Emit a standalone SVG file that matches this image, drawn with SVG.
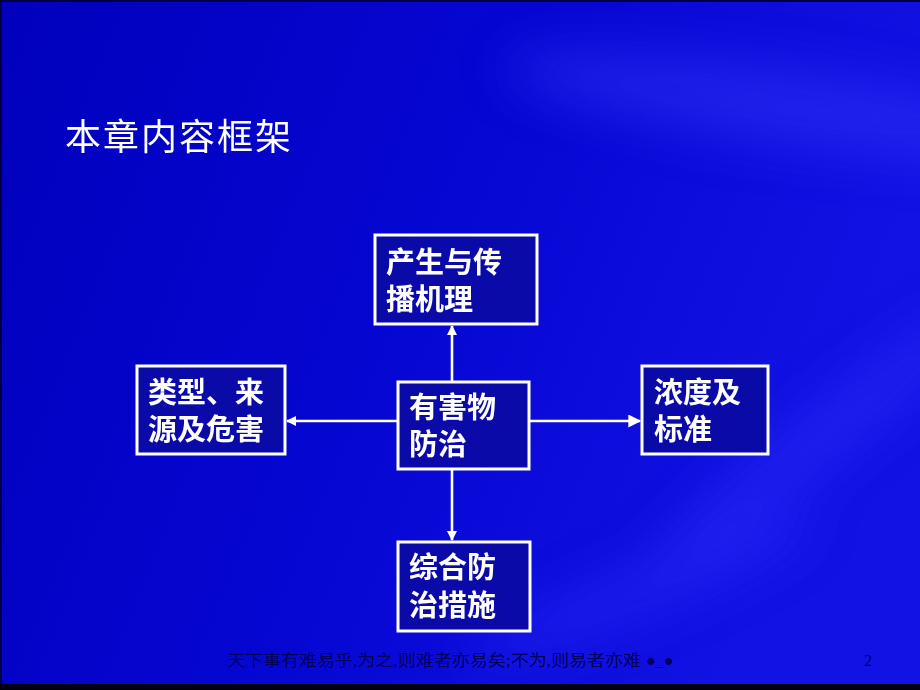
<svg xmlns="http://www.w3.org/2000/svg" width="920" height="690" viewBox="0 0 920 690">
  <defs>
    <linearGradient id="bg" x1="0" y1="0" x2="1" y2="0.3">
      <stop offset="0" stop-color="#0000bc"/>
      <stop offset="0.5" stop-color="#0606d2"/>
      <stop offset="1" stop-color="#1212e4"/>
    </linearGradient>
    <filter id="blur" x="-50%" y="-50%" width="200%" height="200%">
      <feGaussianBlur stdDeviation="26"/>
    </filter>
    <marker id="arr" viewBox="0 0 10 10" refX="9" refY="5" markerWidth="10" markerHeight="10" markerUnits="userSpaceOnUse" orient="auto">
      <path d="M0,0 L10,5 L0,10 z" fill="#ffffff"/>
    </marker>
    <marker id="arrBig" viewBox="0 0 10 10" refX="9" refY="5" markerWidth="14" markerHeight="13" markerUnits="userSpaceOnUse" orient="auto">
      <path d="M0,0 L10,5 L0,10 z" fill="#ffffff"/>
    </marker>
  </defs>
  <style>
    .box { fill: #0a0aa8; stroke: #ffffff; stroke-width: 3; }
    .lbl { fill: #ffffff; font-family: "Noto Sans CJK SC", "Noto Sans", sans-serif; font-size: 29px; font-weight: bold; }
    .edge { stroke: #ffffff; stroke-width: 2.6; fill: none; }
    .foot { fill: #000058; font-family: "Liberation Serif", "Noto Sans CJK SC", serif; font-size: 16px; }
  </style>

  <!-- background -->
  <rect x="0" y="0" width="920" height="690" fill="url(#bg)"/>
  <g filter="url(#blur)" opacity="0.45">
    <ellipse cx="780" cy="105" rx="280" ry="38" fill="#3a3aff" transform="rotate(8 780 105)"/>
    <ellipse cx="830" cy="430" rx="230" ry="26" fill="#3434ff" transform="rotate(-38 830 430)"/>
    <ellipse cx="640" cy="590" rx="190" ry="24" fill="#3030ff" transform="rotate(-22 640 590)"/>
  </g>
  <rect x="0" y="0" width="920" height="2" fill="#000040"/>
  <rect x="0" y="0" width="2" height="690" fill="#000040"/>
  <rect x="0" y="684" width="920" height="6" fill="#000010"/>

  <!-- title -->
  <text x="65" y="150" fill="#ffffff" font-family="Noto Sans CJK SC, Noto Sans, sans-serif" font-size="36" letter-spacing="2">本章内容框架</text>

  <!-- connectors -->
  <g id="connectors">
    <line class="edge" x1="452" y1="382" x2="452" y2="326" marker-end="url(#arr)"/>
    <line class="edge" x1="398" y1="421" x2="287" y2="421" marker-end="url(#arr)"/>
    <line class="edge" x1="529" y1="421" x2="640" y2="421" marker-end="url(#arrBig)"/>
    <line class="edge" x1="452" y1="469" x2="452" y2="540" marker-end="url(#arr)"/>
  </g>

  <!-- nodes -->
  <g id="node-center">
    <rect class="box" x="398" y="382" width="131" height="87"/>
    <text class="lbl"><tspan x="409" y="418">有害物</tspan><tspan x="409" y="455">防治</tspan></text>
  </g>
  <g id="node-top">
    <rect class="box" x="375" y="235" width="162" height="89"/>
    <text class="lbl"><tspan x="386" y="273">产生与传</tspan><tspan x="386" y="310">播机理</tspan></text>
  </g>
  <g id="node-left">
    <rect class="box" x="137" y="366" width="148" height="88"/>
    <text class="lbl"><tspan x="148" y="403">类型、来</tspan><tspan x="148" y="440">源及危害</tspan></text>
  </g>
  <g id="node-right">
    <rect class="box" x="642" y="366" width="126" height="88"/>
    <text class="lbl"><tspan x="654" y="403">浓度及</tspan><tspan x="654" y="440">标准</tspan></text>
  </g>
  <g id="node-bottom">
    <rect class="box" x="398" y="542" width="132" height="89"/>
    <text class="lbl"><tspan x="409" y="578">综合防</tspan><tspan x="409" y="616">治措施</tspan></text>
  </g>

  <!-- footer -->
  <text class="foot" x="227" y="666" textLength="414" lengthAdjust="spacingAndGlyphs">天下事有难易乎,为之,则难者亦易矣;不为,则易者亦难</text>
  <text class="foot" x="646" y="666" font-size="13">●_●</text>
  <text class="foot" x="864" y="666">2</text>
</svg>
